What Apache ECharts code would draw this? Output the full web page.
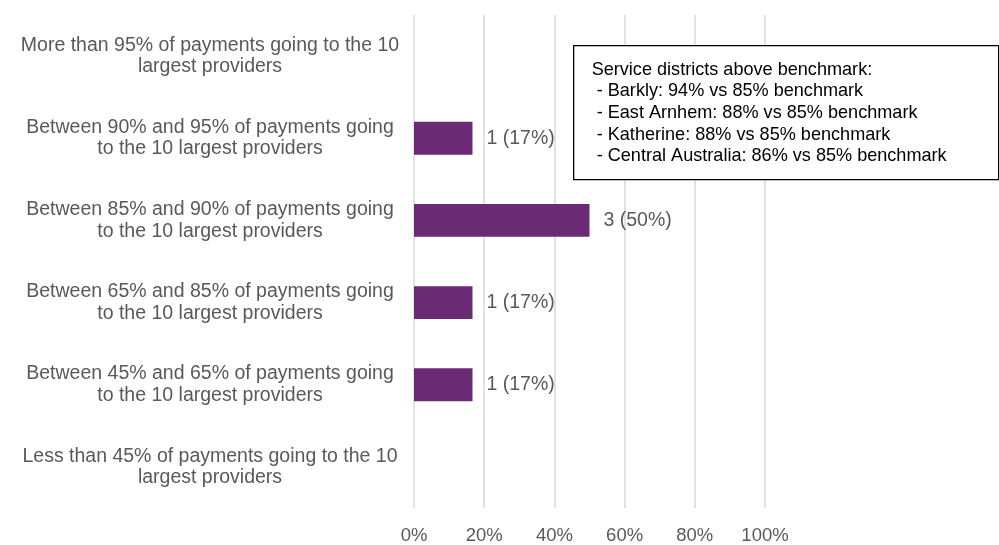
<!DOCTYPE html>
<html>
<head>
<meta charset="utf-8">
<script src="https://cdn.jsdelivr.net/npm/echarts@6/dist/echarts.min.js"></script>
<style>html,body{margin:0;padding:0;background:#fff}#c{width:999px;height:545px}</style>
</head>
<body>
<div id="c"></div>
<script>
var categories = [
  "More than 95% of payments going to the 10\nlargest providers",
  "Between 90% and 95% of payments going\nto the 10 largest providers",
  "Between 85% and 90% of payments going\nto the 10 largest providers",
  "Between 65% and 85% of payments going\nto the 10 largest providers",
  "Between 45% and 65% of payments going\nto the 10 largest providers",
  "Less than 45% of payments going to the 10\nlargest providers"
];
var counts = [0, 1, 3, 1, 1, 0];
var shares = [0, 16.67, 50, 16.67, 16.67, 0];
var shareLabels = ["", "17%", "50%", "17%", "17%", ""];
var xTicks = [0, 20, 40, 60, 80, 100];
var noteLines = [
  "Service districts above benchmark:",
  " - Barkly: 94% vs 85% benchmark",
  " - East Arnhem: 88% vs 85% benchmark",
  " - Katherine: 88% vs 85% benchmark",
  " - Central Australia: 86% vs 85% benchmark"
];

var font = "'Liberation Sans', Arial, sans-serif";
var chart = echarts.init(document.getElementById('c'), null, {renderer: 'canvas'});
chart.setOption({
  animation: false,
  grid: {left: 414, top: 15, width: 351, height: 498, containLabel: false},
  xAxis: {
    type: 'value', min: 0, max: 100, interval: 20,
    axisLine: {show: false}, axisTick: {show: false},
    splitLine: {show: true, lineStyle: {color: '#d9d9d9', width: 1.5}},
    axisLabel: {color: '#595959', fontSize: 18.5, fontFamily: font, margin: 18,
      formatter: function (v) { return xTicks.indexOf(v) >= 0 ? v + '%' : ''; }}
  },
  yAxis: {
    type: 'category', inverse: true, data: categories,
    axisLine: {show: false}, axisTick: {show: false},
    axisLabel: {color: '#595959', fontSize: 19.5, fontFamily: font, align: 'center',
      margin: 204, lineHeight: 21.5}
  },
  series: [{
    type: 'bar',
    data: shares,
    barCategoryGap: '60%',
    itemStyle: {color: '#6a2b74'},
    label: {
      show: true, position: 'right', distance: 14,
      color: '#595959', fontSize: 19.5, fontFamily: font,
      formatter: function (p) {
        return counts[p.dataIndex] > 0 ? counts[p.dataIndex] + ' (' + shareLabels[p.dataIndex] + ')' : '';
      }
    }
  }],
  graphic: [{
    type: 'group', left: 573, top: 45, z: 100,
    children: [{
      type: 'rect', z: 100, shape: {x: 0, y: 0, width: 425, height: 134},
      style: {fill: '#fff', stroke: '#000', lineWidth: 1.3}
    }, {
      type: 'text', z: 101, left: 18, top: 13,
      style: {text: noteLines.join('\n'), fill: '#000', font: '18.1px ' + font, lineHeight: 21.7}
    }]
  }]
});
</script>
</body>
</html>
